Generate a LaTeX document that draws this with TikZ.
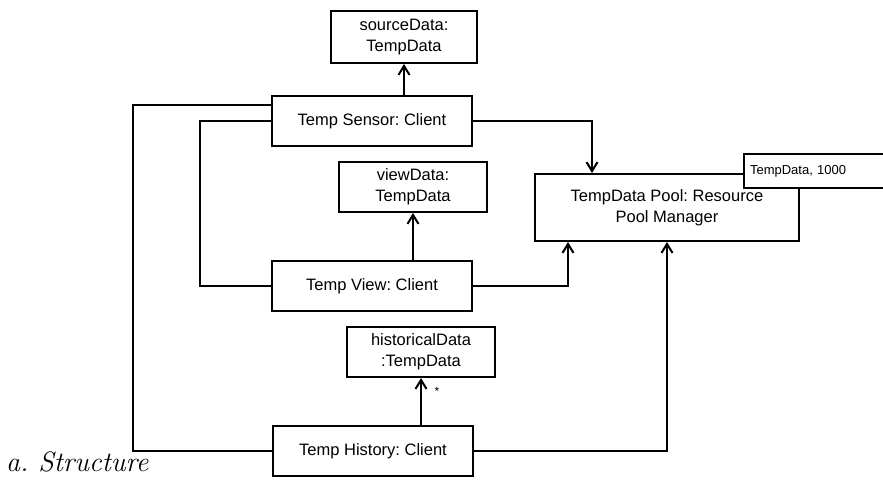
\documentclass[tikz,border=0pt]{standalone}
\usepackage{fontspec}
\setsansfont{Liberation Sans}
\usetikzlibrary{arrows.meta}
\frenchspacing
\tikzset{
  obj/.style={draw, line width=2pt, fill=white, inner sep=0pt, align=center,
    font=\sffamily\fontsize{16.5}{21}\selectfont},
  conn/.style={line width=2pt},
  arr/.style={conn, -{Straight Barb[length=9pt,width=11pt,line width=2pt]}}
}
\begin{document}
\begin{tikzpicture}[x=1pt,y=-1pt]
\clip (0,0) rectangle (883,480);
\fill[white] (0,0) rectangle (883,480);
% nodes
\node[obj, minimum width=146pt, minimum height=52pt] (src) at (404,37) {sourceData:\\TempData};
\node[obj, minimum width=200pt, minimum height=50pt] (sensor) at (372,121) {Temp Sensor: Client};
\node[obj, minimum width=148pt, minimum height=50pt] (vd) at (413,187) {viewData:\\TempData};
\node[obj, minimum width=264pt, minimum height=67pt] (pool) at (667,207.5) {TempData Pool: Resource\\Pool Manager};
\node[obj, minimum width=148pt, minimum height=34pt, align=left, anchor=north west,
  font=\sffamily\fontsize{13}{15}\selectfont, text width=138pt, inner xsep=6pt] (td) at (743,153) {TempData, 1000};
\node[obj, minimum width=200pt, minimum height=50pt] (view) at (372,286) {Temp View: Client};
\node[obj, minimum width=148pt, minimum height=50pt] (hd) at (421,352) {historicalData\\:TempData};
\node[obj, minimum width=200pt, minimum height=50pt] (hist) at (373,451) {Temp History: Client};
% coordinates for bends
\coordinate (outerTop) at (133,105);
\coordinate (outerBot) at (133,451);
\coordinate (innerTop) at (200,121);
\coordinate (innerBot) at (200,286);
% connectors
\draw[arr] (src.south |- sensor.north) -- (src.south);
\draw[arr] (vd.south |- view.north) -- (vd.south);
\draw[arr] (hd.south |- hist.north) -- (hd.south);
\draw[conn] ([yshift=16pt]sensor.west) -- (outerTop) -- (outerBot) -- (hist.west);
\draw[conn] (sensor.west) -- (innerTop) -- (innerBot) -- (view.west);
\draw[arr] (sensor.east) -| ([xshift=-75pt]pool.north);
\draw[arr] (view.east) -| ([xshift=-99pt]pool.south);
\draw[arr] (hist.east) -| (pool.south);
\node[font=\sffamily\fontsize{12}{12}\selectfont, inner sep=0pt] (mult) at (437,391) {*};
% caption
\node[anchor=base west, inner sep=0pt, font=\itshape\fontsize{28}{30}\selectfont] (cap) at (6,471) {a. Structure};
\end{tikzpicture}
\end{document}
